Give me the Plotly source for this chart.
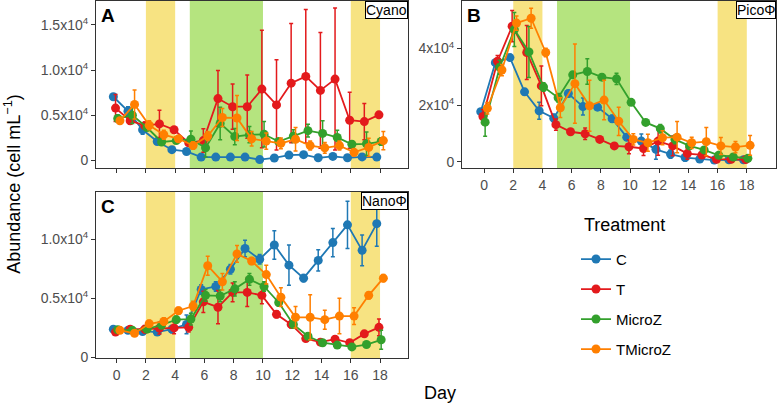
import plotly.graph_objects as go

days = list(range(19))
treatments = ["C", "T", "MicroZ", "TMicroZ"]
colors = {"C": "#1F78B4", "T": "#E31A1C", "MicroZ": "#33A02C", "TMicroZ": "#FF7F00"}
dodge = {"C": -0.225, "T": -0.075, "MicroZ": 0.075, "TMicroZ": 0.225}

# Panel A: Cyano
cyano_C = [7050, 5450, 3400, 2100, 1200, 1000, 380, 380, 380, 380, 100, 280, 600, 650, 300, 450, 300, 400, 380]
cyano_C_err = [300, 500, 500, 300, 200, 200, 100, 100, 100, 100, 100, 100, 200, 150, 100, 150, 150, 150, 100]
cyano_T = [5800, 4400, 3850, 4050, 3400, 1950, 2200, 6850, 5950, 5950, 7900, 6150, 8550, 9300, 7750, 9000, 4450, 4300, 5050]
cyano_T_err = [1500, 400, 400, 1500, 300, 300, 1300, 3100, 2500, 3500, 6500, 5000, 6600, 7400, 6400, 7850, 3100, 2000, 300]
cyano_M = [4650, 5000, 3650, 2050, 2200, 2350, 1400, 4100, 2650, 2850, 2900, 2100, 2700, 3300, 3000, 2550, 1800, 1850, 2100]
cyano_M_err = [400, 900, 300, 300, 200, 900, 1000, 1800, 900, 900, 1400, 300, 700, 700, 1400, 800, 300, 1300, 400]
cyano_TM = [4400, 6200, 3900, 2850, 2400, 1650, 2700, 4750, 4700, 2400, 2150, 1900, 2350, 1650, 1400, 1650, 900, 1450, 2200]
cyano_TM_err = [300, 1600, 500, 500, 300, 400, 500, 1000, 2500, 800, 900, 600, 1300, 500, 600, 500, 400, 1000, 1000]

# Panel B: PicoΦ
pico_C = [17700, 35000, 36800, 24700, 18000, 15400, 24100, 19500, 19300, 15200, 8700, 7300, 4400, 2700, 1500, 950, 600, 700, 700]
pico_C_err = [1000, 1000, 700, 1000, 3000, 1500, 1200, 3000, 1000, 1200, 1200, 2500, 3500, 1500, 1200, 500, 300, 300, 300]
pico_T = [16000, 35500, 47900, 38600, 26800, 13100, 10600, 9900, 7900, 5600, 5300, 4700, 7300, 5600, 2900, 2400, 900, 900, 800]
pico_T_err = [2500, 2000, 5500, 9500, 7000, 2000, 500, 2000, 500, 500, 2500, 2500, 5000, 3500, 2000, 1000, 300, 300, 300]
pico_M = [14000, 33400, 46700, 38800, 26400, 22600, 30700, 31900, 29900, 29300, 21000, 13900, 11700, 7900, 5600, 4200, 2300, 1700, 1200]
pico_M_err = [5000, 2500, 6000, 9000, 1500, 1500, 1000, 4500, 1000, 2000, 700, 700, 1500, 1500, 1000, 1000, 500, 500, 500]
pico_TM = [18900, 32400, 49000, 50700, 38600, 19100, 27600, 19800, 21800, 14300, 7900, 6700, 8500, 8700, 6700, 7100, 5600, 5200, 5800]
pico_TM_err = [2000, 2000, 2500, 3500, 1500, 3500, 14000, 9000, 7000, 5000, 2000, 3000, 2500, 5500, 2000, 5000, 3000, 2000, 3500]

# Panel C: NanoΦ
nano_C = [2400, 2300, 2200, 2150, 2400, 2800, 5750, 6000, 7450, 9200, 8300, 9500, 7800, 6700, 8200, 9700, 11200, 9050, 11300]
nano_C_err = [200, 200, 200, 200, 300, 800, 400, 400, 400, 700, 400, 1200, 1700, 300, 900, 1200, 2000, 1300, 1900]
nano_T = [2150, 2400, 2400, 2480, 2500, 2550, 4700, 4250, 5500, 5500, 5250, 3650, 2800, 1600, 1300, 1550, 1250, 2000, 2550]
nano_T_err = [200, 200, 300, 500, 500, 400, 900, 1400, 800, 1200, 700, 300, 300, 200, 200, 200, 200, 200, 700]
nano_M = [2350, 2300, 2400, 2750, 3200, 3250, 5250, 5200, 5800, 6600, 6000, 4650, 2800, 1800, 1250, 1050, 900, 1100, 1500]
nano_M_err = [200, 200, 200, 300, 300, 500, 500, 500, 600, 500, 400, 300, 300, 200, 200, 200, 200, 200, 800]
nano_TM = [2300, 2050, 2850, 3050, 3950, 4350, 7750, 6400, 8750, 8150, 7000, 5100, 3400, 3400, 3200, 3500, 3500, 5250, 6700]
nano_TM_err = [200, 200, 300, 300, 300, 400, 800, 700, 700, 300, 800, 800, 900, 1900, 800, 1500, 700, 300, 300]

panels = [
    ("x", "y", "A", "Cyano", {"C": (cyano_C, cyano_C_err), "T": (cyano_T, cyano_T_err),
                               "MicroZ": (cyano_M, cyano_M_err), "TMicroZ": (cyano_TM, cyano_TM_err)}),
    ("x2", "y2", "B", "PicoΦ", {"C": (pico_C, pico_C_err), "T": (pico_T, pico_T_err),
                                "MicroZ": (pico_M, pico_M_err), "TMicroZ": (pico_TM, pico_TM_err)}),
    ("x3", "y3", "C", "NanoΦ", {"C": (nano_C, nano_C_err), "T": (nano_T, nano_T_err),
                                "MicroZ": (nano_M, nano_M_err), "TMicroZ": (nano_TM, nano_TM_err)}),
]

yellow_periods = [(2, 4), (16, 18)]
green_periods = [(5, 10)]
YELLOW = "#F7E382"
GREEN = "#B5E47F"

W, H = 777, 410
FONT = "Liberation Sans, Arial, sans-serif"

fig = go.Figure()
for pi, (xa, ya, tag, name, data) in enumerate(panels):
    for t in treatments:
        vals, errs = data[t]
        fig.add_trace(go.Scatter(
            x=[d + dodge[t] for d in days], y=vals,
            mode="lines+markers", name=t, legendgroup=t, showlegend=(pi == 0),
            xaxis=xa, yaxis=ya,
            line=dict(color=colors[t], width=1.8),
            marker=dict(color=colors[t], size=9),
            error_y=dict(type="data", array=errs, visible=True, color=colors[t], thickness=1.5, width=2),
        ))

# domains in pixels
doms = {
    "A": ((96, 408), (1, 171)),
    "B": ((462, 776), (1, 171)),
    "C": ((96, 408), (195, 364.5)),
}

def xd(p):
    return [p[0] / W, p[1] / W]

def yd(p):
    return [1 - p[1] / H, 1 - p[0] / H]

axis_common = dict(showgrid=False, zeroline=False, showline=True, mirror=True,
                   linecolor="#333333", linewidth=1, ticks="outside", ticklen=4,
                   tickcolor="#333333", tickwidth=1,
                   tickfont=dict(family=FONT, size=14, color="#4D4D4D"))

xt = list(range(0, 19, 2))
layout = dict(
    width=W, height=H, margin=dict(l=0, r=0, t=0, b=0),
    plot_bgcolor="white", paper_bgcolor="white",
    font=dict(family=FONT, color="black"),
    xaxis=dict(domain=xd(doms["A"][0]), range=[-1.41, 19.91], tickvals=xt, showticklabels=False,
               anchor="y", **axis_common),
    yaxis=dict(domain=yd(doms["A"][1]), range=[-837, 17640], tickvals=[0, 5000, 10000, 15000],
               ticktext=["0", "0.5x10<sup>4</sup>", "1.0x10<sup>4</sup>", "1.5x10<sup>4</sup>"],
               anchor="x", **axis_common),
    xaxis2=dict(domain=xd(doms["B"][0]), range=[-1.51, 20.0], tickvals=xt, anchor="y2", **axis_common),
    yaxis2=dict(domain=yd(doms["B"][1]), range=[-2230, 56800], tickvals=[0, 20000, 40000],
                ticktext=["0", "2x10<sup>4</sup>", "4x10<sup>4</sup>"], anchor="x2", **axis_common),
    xaxis3=dict(domain=xd(doms["C"][0]), range=[-1.41, 19.91], tickvals=xt, anchor="y3", **axis_common),
    yaxis3=dict(domain=yd(doms["C"][1]), range=[-60, 14000], tickvals=[0, 5000, 10000],
                ticktext=["0", "0.5x10<sup>4</sup>", "1.0x10<sup>4</sup>"], anchor="x3", **axis_common),
    legend=dict(x=576 / W, xanchor="left", y=1 - 247 / H, yanchor="top",
                font=dict(family=FONT, size=15, color="black"),
                tracegroupgap=7.5, bgcolor="rgba(0,0,0,0)"),
)
fig.update_layout(**layout)

shapes = []
annotations = []
for (xa, ya, tag, name, data) in panels:
    xref = xa
    yref = ya + " domain"
    for a, b in yellow_periods:
        shapes.append(dict(type="rect", xref=xref, yref=yref, x0=a, x1=b, y0=0, y1=1,
                           fillcolor=YELLOW, line=dict(width=0), layer="below"))
    for a, b in green_periods:
        shapes.append(dict(type="rect", xref=xref, yref=yref, x0=a, x1=b, y0=0, y1=1,
                           fillcolor=GREEN, line=dict(width=0), layer="below"))
    (x0, x1), (y0, y1) = doms[tag]
    annotations.append(dict(text="<b>" + tag + "</b>", xref="paper", yref="paper",
                            x=(x0 + 3) / W, y=1 - (y0 + 2) / H, xanchor="left", yanchor="top",
                            showarrow=False, font=dict(family=FONT, size=19, color="black")))
    annotations.append(dict(text=name, xref="paper", yref="paper",
                            x=x1 / W, y=1 - y0 / H, xanchor="right", yanchor="top",
                            showarrow=False, bgcolor="white", bordercolor="black", borderwidth=1,
                            borderpad=0, font=dict(family=FONT, size=14, color="black")))

annotations.append(dict(text="Abundance (cell mL<sup>−1</sup>)", xref="paper", yref="paper",
                        x=13 / W, y=1 - 188 / H, xanchor="center", yanchor="middle", textangle=-90,
                        showarrow=False, font=dict(family=FONT, size=18, color="black")))
annotations.append(dict(text="Day", xref="paper", yref="paper",
                        x=440 / W, y=1 - 400 / H, xanchor="center", yanchor="middle",
                        showarrow=False, font=dict(family=FONT, size=18, color="black")))
annotations.append(dict(text="Treatment", xref="paper", yref="paper",
                        x=582 / W, y=1 - 229 / H, xanchor="left", yanchor="middle",
                        showarrow=False, font=dict(family=FONT, size=18, color="black")))

fig.update_layout(shapes=shapes, annotations=annotations)
fig.write_html("out.html",
               config={"displayModeBar": False, "staticPlot": True},
               post_script="document.body.style.margin='0px';document.body.style.overflow='hidden';")
